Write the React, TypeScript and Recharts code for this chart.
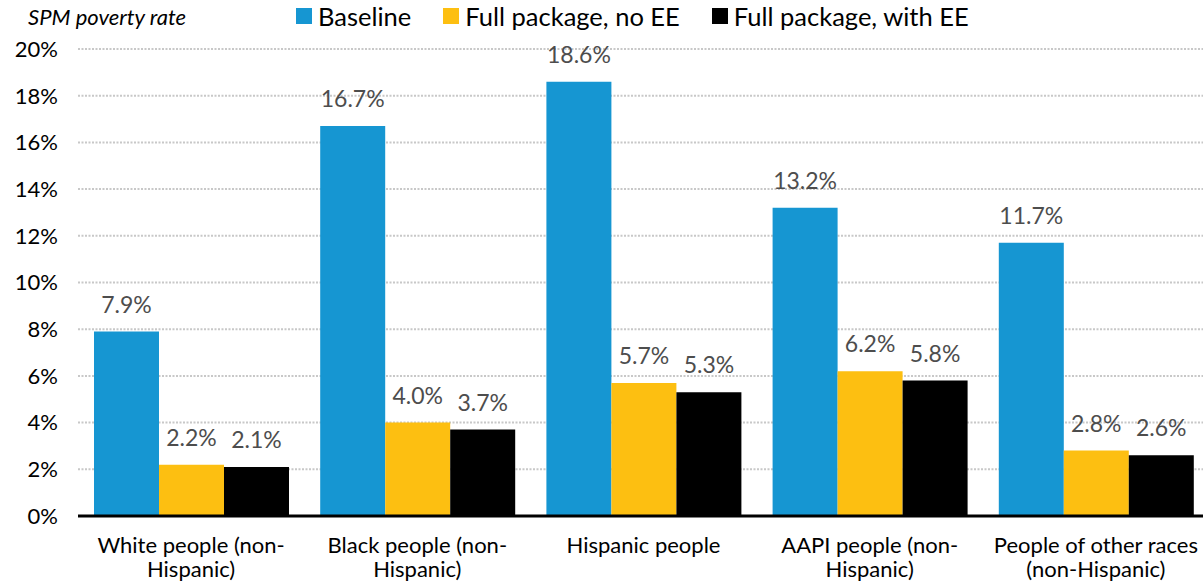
import React from "react";
import {
  BarChart,
  Bar,
  XAxis,
  YAxis,
  CartesianGrid,
  LabelList,
  Legend,
} from "recharts";

// Poverty rates (%) by race and ethnicity under each scenario
const categories = [
  "White people (non-Hispanic)",
  "Black people (non-Hispanic)",
  "Hispanic people",
  "AAPI people (non-Hispanic)",
  "People of other races (non-Hispanic)",
];
const categoryLines: string[][] = [
  ["White people (non-", "Hispanic)"],
  ["Black people (non-", "Hispanic)"],
  ["Hispanic people"],
  ["AAPI people (non-", "Hispanic)"],
  ["People of other races", "(non-Hispanic)"],
];
const baseline = [7.9, 16.7, 18.6, 13.2, 11.7];
const fullNoEE = [2.2, 4.0, 5.7, 6.2, 2.8];
const fullWithEE = [2.1, 3.7, 5.3, 5.8, 2.6];
const yTicks = [0, 2, 4, 6, 8, 10, 12, 14, 16, 18, 20];

const seriesInfo = [
  { key: "baseline", name: "Baseline", color: "#1696D2" },
  { key: "noEE", name: "Full package, no EE", color: "#FDBF11" },
  { key: "withEE", name: "Full package, with EE", color: "#000000" },
];

const data = categories.map((c, i) => ({
  category: c,
  baseline: baseline[i],
  noEE: fullNoEE[i],
  withEE: fullWithEE[i],
}));

const FONT = "Lato, 'Open Sans', sans-serif";

const CategoryTick = (props: any) => {
  const { x, y, payload, index } = props;
  const lines = categoryLines[index] ?? [String(payload.value)];
  return (
    <text
      x={x}
      y={y}
      textAnchor="middle"
      fill="#000"
      fontFamily={FONT}
      fontSize={22}
    >
      {lines.map((l, i) => (
        <tspan key={i} x={x} dy={i === 0 ? 37 : 24}>
          {l}
        </tspan>
      ))}
    </text>
  );
};

const LegendContent = () => (
  <div
    style={{
      display: "flex",
      alignItems: "center",
      fontFamily: FONT,
      fontSize: 25.5,
      color: "#000",
      whiteSpace: "nowrap",
    }}
  >
    {seriesInfo.map((s) => (
      <div
        key={s.key}
        style={{ display: "flex", alignItems: "center", marginRight: 32 }}
      >
        <span
          style={{
            display: "inline-block",
            width: 16,
            height: 16,
            background: s.color,
            marginRight: 6,
          }}
        />
        <span>{s.name}</span>
      </div>
    ))}
  </div>
);

export default function App() {
  return (
    <div
      style={{
        position: "absolute",
        left: 0,
        top: 0,
        width: 1203,
        height: 584,
        overflow: "hidden",
        background: "#fff",
      }}
    >
      <div
        style={{
          position: "absolute",
          left: 28,
          top: 3,
          fontFamily: FONT,
          fontStyle: "italic",
          fontSize: 22,
          color: "#000",
          whiteSpace: "nowrap",
        }}
      >
        SPM poverty rate
      </div>
      <BarChart
        width={1209}
        height={584}
        data={data}
        margin={{ top: 49, right: 0, bottom: 8, left: 0 }}
        barCategoryGap={16}
        barGap={0}
      >
        <CartesianGrid
          vertical={false}
          stroke="#c8c8c8"
          strokeDasharray="2 1.5"
          strokeWidth={2}
        />
        <XAxis
          dataKey="category"
          tick={<CategoryTick />}
          tickLine={false}
          axisLine={{ stroke: "#000", strokeWidth: 3 }}
          interval={0}
          height={60}
          tickSize={0}
          tickMargin={0}
        />
        <YAxis
          domain={[0, 20]}
          ticks={yTicks}
          tickFormatter={(v: number) => `${v}%`}
          axisLine={false}
          tickLine={false}
          tickSize={0}
          tickMargin={20}
          width={78}
          tick={{ fontFamily: FONT, fontSize: 22, fill: "#000" }}
          interval={0}
        />
        <Legend
          layout="horizontal"
          verticalAlign="middle"
          align="center"
          content={<LegendContent />}
          wrapperStyle={{ position: "absolute", top: 1, left: 296, width: 800 }}
        />
        {seriesInfo.map((s) => (
          <Bar
            key={s.key}
            dataKey={s.key}
            name={s.name}
            fill={s.color}
            isAnimationActive={false}
          >
            <LabelList
              dataKey={s.key}
              position="top"
              offset={19}
              formatter={(v: number) => `${v.toFixed(1)}%`}
              style={{ fontFamily: FONT, fontSize: 23, fill: "#4d4d4d" }}
            />
          </Bar>
        ))}
      </BarChart>
    </div>
  );
}
